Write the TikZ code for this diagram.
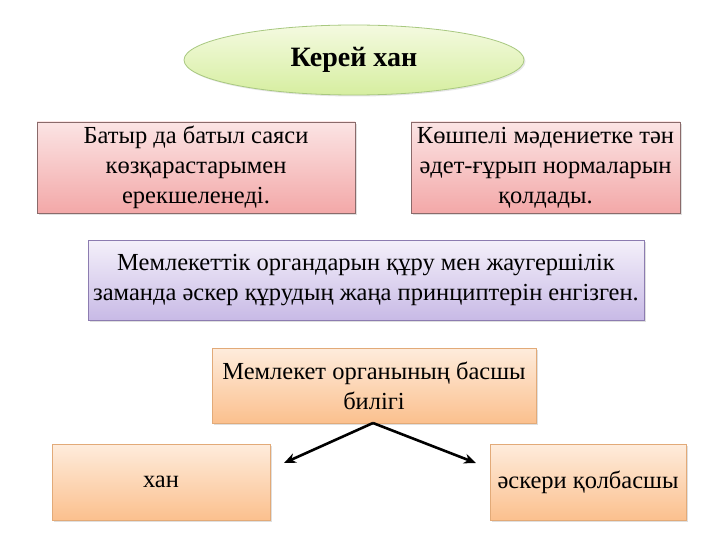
\documentclass[tikz,border=0pt]{standalone}
\usepackage{fontspec}
\setmainfont{Liberation Serif}
\usetikzlibrary{shapes.geometric,arrows.meta,shadows}
\definecolor{grtop}{HTML}{F4FAE0}
\definecolor{grbot}{HTML}{D6EEA0}
\definecolor{grline}{HTML}{A8C880}
\definecolor{rdtop}{HTML}{FBE4E4}
\definecolor{rdbot}{HTML}{F3A8A8}
\definecolor{rdline}{HTML}{8A6A6A}
\definecolor{putop}{HTML}{F4F0FA}
\definecolor{pubot}{HTML}{C8BAE6}
\definecolor{puline}{HTML}{8C7CB0}
\definecolor{ortop}{HTML}{FEECDC}
\definecolor{orbot}{HTML}{FBC08E}
\definecolor{orline}{HTML}{E2AA78}
\tikzset{
  box/.style={draw, line width=0.8pt, align=center, inner sep=0pt,
    font=\fontsize{24.5}{30}\selectfont, text=black,
    drop shadow={shadow xshift=2pt, shadow yshift=-2pt, opacity=0.25}},
  redbox/.style={box, draw=rdline, top color=rdtop, bottom color=rdbot},
  purplebox/.style={box, draw=puline, top color=putop, bottom color=pubot},
  orangebox/.style={box, draw=orline, top color=ortop, bottom color=orbot},
  link/.style={line width=2.6pt, -{Stealth[length=12pt,width=10pt]}}
}
\begin{document}
\begin{tikzpicture}[x=1pt,y=-1pt]
\useasboundingbox (0,0) rectangle (720,540);
\node[ellipse, draw=grline, line width=0.8pt, top color=grtop, bottom color=grbot,
  minimum width=340pt, minimum height=70pt, inner sep=0pt,
  font=\fontsize{28}{30}\selectfont\bfseries,
  drop shadow={shadow xshift=1.5pt, shadow yshift=-1.5pt, opacity=0.2}] (kerei) at (354,60) {Керей хан};
\node[redbox, minimum width=318pt, minimum height=91pt] (left) at (196,167.5)
  {Батыр да батыл саяси\\көзқарастарымен\\ерекшеленеді.};
\node[redbox, minimum width=269pt, minimum height=91pt] (right) at (545.5,167.5)
  {Көшпелі мәдениетке тән\\әдет-ғұрып нормаларын\\қолдады.};
\node[purplebox, minimum width=556pt, minimum height=80pt] (mid) at (366,280)
  {Мемлекеттік органдарын құру мен жаугершілік\\заманда әскер құрудың жаңа принциптерін енгізген.};
\node[orangebox, minimum width=324pt, minimum height=75pt] (head) at (374,385.5)
  {Мемлекет органының басшы\\билігі};
\node[orangebox, minimum width=218pt, minimum height=76pt] (khan) at (161,482) {хан};
\node[orangebox, minimum width=196pt, minimum height=76pt] (army) at (588,482) {әскери қолбасшы};
\coordinate (s) at (373,423);
\coordinate (l) at (284,463);
\coordinate (r) at (476,463);
\draw[link] (s) -- (l);
\draw[link] (s) -- (r);
\end{tikzpicture}
\end{document}
